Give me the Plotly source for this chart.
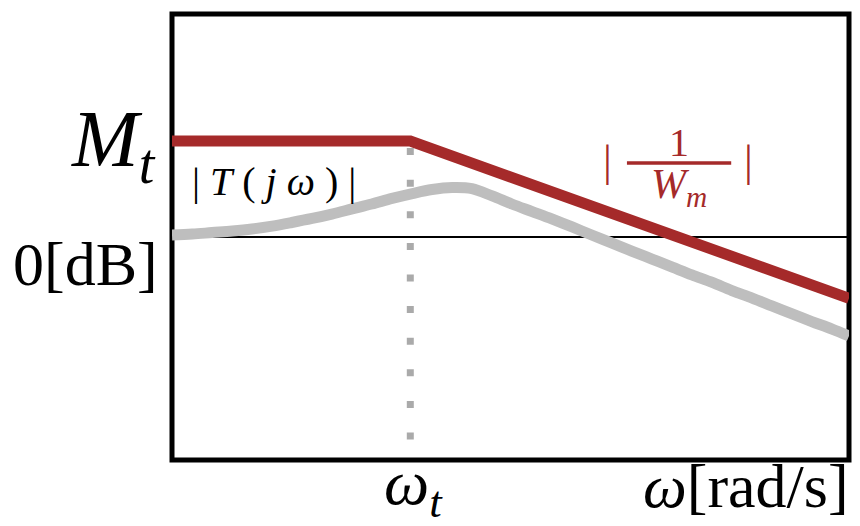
import plotly.graph_objects as go

# ---- data (normalised frequency axis 0..10, magnitude axis in dB-like units) ----
x_range = [0, 10]
y_range = [-10, 10]

omega_t = 3.52          # crossover frequency
M_t = 4.30              # peak bound level

# |1/W_m| : flat until omega_t, then straight roll-off
wm_x = [0.0, omega_t, 10.0]
wm_y = [M_t, M_t, -2.75]

# |T(jw)| : complementary sensitivity magnitude
t_x = [0.00, 0.30, 0.59, 0.89, 1.18, 1.48, 1.77, 2.07, 2.36, 2.66,
       2.95, 3.25, 3.55, 3.84, 4.14, 4.43, 4.73, 5.02, 5.32, 5.61,
       5.91, 6.20, 6.50, 6.79, 7.09, 7.39, 7.68, 7.98, 8.27, 8.57,
       8.86, 9.16, 9.45, 9.75, 10.00]
t_y = [0.09, 0.13, 0.20, 0.27, 0.36, 0.49, 0.65, 0.83, 1.03, 1.26,
       1.48, 1.73, 1.95, 2.13, 2.22, 2.17, 1.84, 1.48, 1.14, 0.81,
       0.45, 0.09, -0.27, -0.63, -0.99, -1.35, -1.70, -2.04, -2.40, -2.74,
       -3.09, -3.45, -3.79, -4.13, -4.44]

# guide at omega_t
guide_x = [omega_t, omega_t]
guide_y = [M_t, y_range[0]]

# tick-like labels
y_label_mt = "<i>M</i><sub><i>t</i></sub>"
y_label_0 = "0[dB]"
x_label_wt = "<i>ω</i><sub><i>t</i></sub>"
x_label_axis = "<i>ω</i>[rad/s]"

# curve labels
NB = "\u00a0"
t_label = f"|{NB}<i>T</i>{NB}({NB}<i>j</i>{NB}<i>ω</i>{NB}){NB}|"
t_label_pos = (1.51, 2.47)
wm_num = "1"
wm_den = "<i>W</i><sub><i>m</i></sub>"
wm_bar = "|"
wm_frac_center = 7.49
wm_bar_left = 6.43
wm_bar_right = 8.51
wm_frac_half = 0.77
wm_num_y = 4.22
wm_line_y = 3.32
wm_den_y = 2.22
wm_bar_y = 3.40

RED = "#A52A2A"
GRAY = "#BEBEBE"
DOT = "#AAAAAA"
SERIF = "Liberation Serif, Times New Roman, serif"

fig = go.Figure()

fig.add_trace(go.Scatter(x=guide_x, y=guide_y, mode="lines",
                         line=dict(color=DOT, width=7, dash="0px,7px,7px,17.6px"),
                         hoverinfo="skip", showlegend=False))
fig.add_trace(go.Scatter(x=t_x, y=t_y, mode="lines",
                         line=dict(color=GRAY, width=11, shape="spline", smoothing=1.0),
                         hoverinfo="skip", showlegend=False))
fig.add_trace(go.Scatter(x=wm_x, y=wm_y, mode="lines",
                         line=dict(color=RED, width=11),
                         hoverinfo="skip", showlegend=False))

# frame
fig.add_shape(type="rect", xref="paper", yref="paper", x0=0, x1=1, y0=0, y1=1,
              line=dict(color="black", width=5), layer="below")
# fraction bar of 1/W_m
fig.add_shape(type="line", xref="x", yref="y",
              x0=wm_frac_center - wm_frac_half, x1=wm_frac_center + wm_frac_half,
              y0=wm_line_y, y1=wm_line_y, line=dict(color=RED, width=3.5))

ann = []
ann.append(dict(text=y_label_mt, xref="paper", yref="y", x=0, y=M_t,
                xanchor="right", yanchor="middle", xshift=-14, yshift=-4,
                font=dict(size=80, color="black", family=SERIF), showarrow=False))
ann.append(dict(text=y_label_0, xref="paper", yref="y", x=0, y=0,
                xanchor="right", yanchor="middle", xshift=-12, yshift=-27,
                font=dict(size=62, color="black", family=SERIF), showarrow=False))
ann.append(dict(text=x_label_wt, xref="x", yref="paper", x=omega_t, y=0,
                xanchor="center", yanchor="top", xshift=3, yshift=15,
                font=dict(size=64, color="black", family=SERIF), showarrow=False))
ann.append(dict(text=x_label_axis, xref="paper", yref="paper", x=1, y=0,
                xanchor="right", yanchor="top", xshift=2, yshift=10,
                font=dict(size=62, color="black", family=SERIF), showarrow=False))
ann.append(dict(text=t_label, xref="x", yref="y", x=t_label_pos[0], y=t_label_pos[1],
                xanchor="center", yanchor="middle",
                font=dict(size=40, color="black", family=SERIF), showarrow=False))
ann.append(dict(text=wm_num, xref="x", yref="y", x=wm_frac_center, y=wm_num_y,
                xanchor="center", yanchor="middle",
                font=dict(size=40, color=RED, family=SERIF), showarrow=False))
ann.append(dict(text=wm_den, xref="x", yref="y", x=wm_frac_center, y=wm_den_y,
                xanchor="center", yanchor="middle",
                font=dict(size=42, color=RED, family=SERIF), showarrow=False))
for bx in (wm_bar_left, wm_bar_right):
    ann.append(dict(text=wm_bar, xref="x", yref="y", x=bx, y=wm_bar_y,
                    xanchor="center", yanchor="middle",
                    font=dict(size=44, color=RED, family=SERIF), showarrow=False))

fig.update_layout(
    width=860, height=526,
    margin=dict(l=172, r=11, t=14, b=66),
    paper_bgcolor="white", plot_bgcolor="rgba(0,0,0,0)",
    showlegend=False,
    annotations=ann,
    xaxis=dict(range=x_range, showgrid=False, zeroline=False, showticklabels=False,
               ticks="", showline=False, fixedrange=True),
    yaxis=dict(range=y_range, showgrid=False, zeroline=True, zerolinecolor="black",
               zerolinewidth=1.5, showticklabels=False, ticks="", showline=False,
               fixedrange=True),
)

fig.write_html("out.html", config={"displayModeBar": False})
